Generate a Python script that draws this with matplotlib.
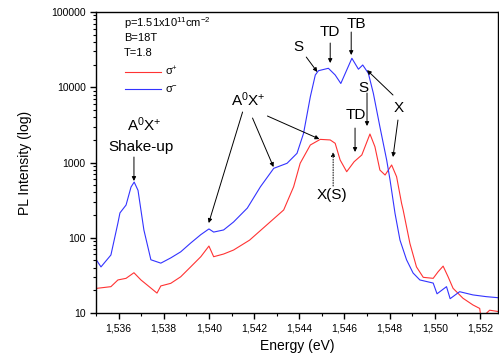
import matplotlib
matplotlib.use("Agg")
import matplotlib.pyplot as plt
from matplotlib.ticker import FuncFormatter, MultipleLocator, LogLocator, NullFormatter

plt.rcParams['font.family'] = ['Liberation Sans', 'DejaVu Sans']
plt.rcParams['mathtext.default'] = 'regular'

# sigma- (blue) spectrum
energy_blue = [1.53505, 1.53522, 1.53566, 1.53597, 1.53606, 1.53633, 1.53655, 1.53669,
               1.53686, 1.53712, 1.53743, 1.53787, 1.53831, 1.53875, 1.53919, 1.53964,
               1.54000, 1.54021, 1.54065, 1.54109, 1.54170, 1.54228, 1.54287, 1.54346,
               1.54390, 1.54419, 1.54449, 1.54471, 1.54485, 1.54529, 1.54559, 1.54584,
               1.54633, 1.54662, 1.54681, 1.54706, 1.54728, 1.54757, 1.54787, 1.54802,
               1.54824, 1.54846, 1.54875, 1.54904, 1.54934, 1.54993, 1.55010, 1.55052,
               1.55068, 1.55110, 1.55169, 1.55228, 1.55278]
pl_blue = [49, 41, 59, 157, 214, 272, 472, 550,
           427, 127, 51, 46, 54, 65, 85, 110,
           131, 119, 127, 162, 248, 476, 837, 977,
           1325, 2443, 7480, 14560, 16600, 17870, 14560, 11230,
           24260, 17380, 19770, 15300, 8320, 2990, 1080, 585,
           211, 93, 51, 34, 27.5, 25, 18, 22.4,
           15.5, 19.2, 17.4, 16.5, 16]

# sigma+ (red) spectrum
energy_red = [1.53505, 1.53566, 1.53597, 1.53633, 1.53668, 1.53699, 1.53721, 1.53770,
              1.53787, 1.53831, 1.53875, 1.53919, 1.53964, 1.54000, 1.54021, 1.54065,
              1.54109, 1.54180, 1.54331, 1.54375, 1.54404, 1.54449, 1.54493, 1.54537,
              1.54559, 1.54581, 1.54610, 1.54643, 1.54677, 1.54713, 1.54735, 1.54757,
              1.54780, 1.54809, 1.54831, 1.54853, 1.54860, 1.54890, 1.54919, 1.54949,
              1.54993, 1.55015, 1.55037, 1.55059, 1.55081, 1.55125, 1.55169, 1.55199,
              1.55205, 1.55243, 1.55278]
pl_red = [21.3, 22.4, 27.5, 28.9, 34.3, 27.5, 24.3, 18.4,
          22.9, 24.8, 30.3, 41, 56, 77.6, 56, 60.8,
          68.7, 93, 234, 476, 977, 1710, 2030, 1995,
          1800, 1080, 755, 1025, 1260, 2393, 1622, 794,
          682, 927, 647, 287, 234, 84, 41, 29.8,
          28.9, 35.4, 42, 30.3, 21.3, 15.7, 12.8, 11.5,
          8.5, 10.9, 10.5]

x_limits = (1.535, 1.5528)
y_limits = (10, 100000)

fig = plt.figure(figsize=(4.99, 3.63), dpi=100)
ax = fig.add_axes([0.1924, 0.1377, 0.8056, 0.8292])

ax.plot(energy_red, pl_red, color='#ff3333', lw=0.8, label=r'$\sigma^{+}$')
ax.plot(energy_blue, pl_blue, color='#3333ff', lw=0.8, label=r'$\sigma^{-}$')

ax.set_yscale('log')
ax.set_xlim(*x_limits)
ax.set_ylim(*y_limits)

ax.xaxis.set_major_locator(MultipleLocator(0.002))
ax.xaxis.set_minor_locator(MultipleLocator(0.001))
ax.xaxis.set_major_formatter(FuncFormatter(lambda v, p: f"{v:.3f}".replace('.', ',')))
ax.yaxis.set_major_locator(LogLocator(base=10))
ax.yaxis.set_minor_locator(LogLocator(base=10, subs=range(2, 10)))
ax.yaxis.set_minor_formatter(NullFormatter())
ax.yaxis.set_major_formatter(FuncFormatter(lambda v, p: f"{int(round(v))}"))

ax.tick_params(which='major', direction='out', length=4.5, width=1, labelsize=7.5, pad=3)
ax.tick_params(which='minor', direction='out', length=2.5, width=0.8)
for sp in ax.spines.values():
    sp.set_linewidth(1.0)

ax.set_xlabel('Energy (eV)', fontsize=10, labelpad=4)
ax.set_ylabel('PL Intensity (log)', fontsize=10, labelpad=14)

# parameter block and legend
ax.text(0.07, 0.963, 'p=1.51x10$^{11}$cm$^{-2}$', transform=ax.transAxes, fontsize=8, va='center')
ax.text(0.07, 0.914, 'B=18T', transform=ax.transAxes, fontsize=8, va='center')
ax.text(0.07, 0.864, 'T=1.8', transform=ax.transAxes, fontsize=8, va='center')
ax.legend(loc='upper left', bbox_to_anchor=(0.06, 0.84), frameon=False, fontsize=8,
          handlelength=3.3, labelspacing=0.55, handletextpad=0.3, borderaxespad=0)

arrow = dict(arrowstyle='-|>', color='black', lw=0.7, mutation_scale=6, shrinkA=0, shrinkB=0)
dotted = dict(arrowstyle='-|>', color='black', lw=0.7, ls=':', mutation_scale=6, shrinkA=0, shrinkB=0)
lab = dict(fontsize=11, ha='center', va='center')


def point(text_xy, tip_xy, style=arrow):
    ax.annotate('', xy=tip_xy, xytext=text_xy, arrowprops=style)


# shake-up
ax.text(1.53712, 3150, 'A$^{0}$X$^{+}$', **lab)
ax.text(1.53699, 1607, 'Shake-up', **lab)
point((1.53668, 1183), (1.53668, 568))

# A0X+ main
ax.text(1.54175, 6780, 'A$^{0}$X$^{+}$', **lab)
point((1.54149, 4690), (1.53999, 157))
point((1.54193, 3900), (1.54286, 871))
point((1.54259, 4150), (1.54489, 2050))

# X(S)
ax.text(1.54546, 370, 'X(S)', **lab)
point((1.5455, 487), (1.5455, 1380), dotted)

# blue peaks
ax.text(1.54396, 34300, 'S', **lab)
point((1.54431, 25200), (1.5448, 15960))
ax.text(1.54537, 54200, 'TD', **lab)
point((1.54537, 38700), (1.54537, 20990))
ax.text(1.54652, 69300, 'TB', **lab)
point((1.5463, 54200), (1.5463, 26800))

# red peaks
ax.text(1.54682, 9770, 'S', **lab)
point((1.547, 8390), (1.547, 3055))
ax.text(1.54652, 4275, 'TD', **lab)
point((1.54647, 2870), (1.54647, 1380))

# X
ax.text(1.54841, 5300, 'X', **lab)
point((1.54815, 7890), (1.547, 16900))
point((1.54837, 3670), (1.54815, 1183))

fig.savefig('out.png', dpi=100)
